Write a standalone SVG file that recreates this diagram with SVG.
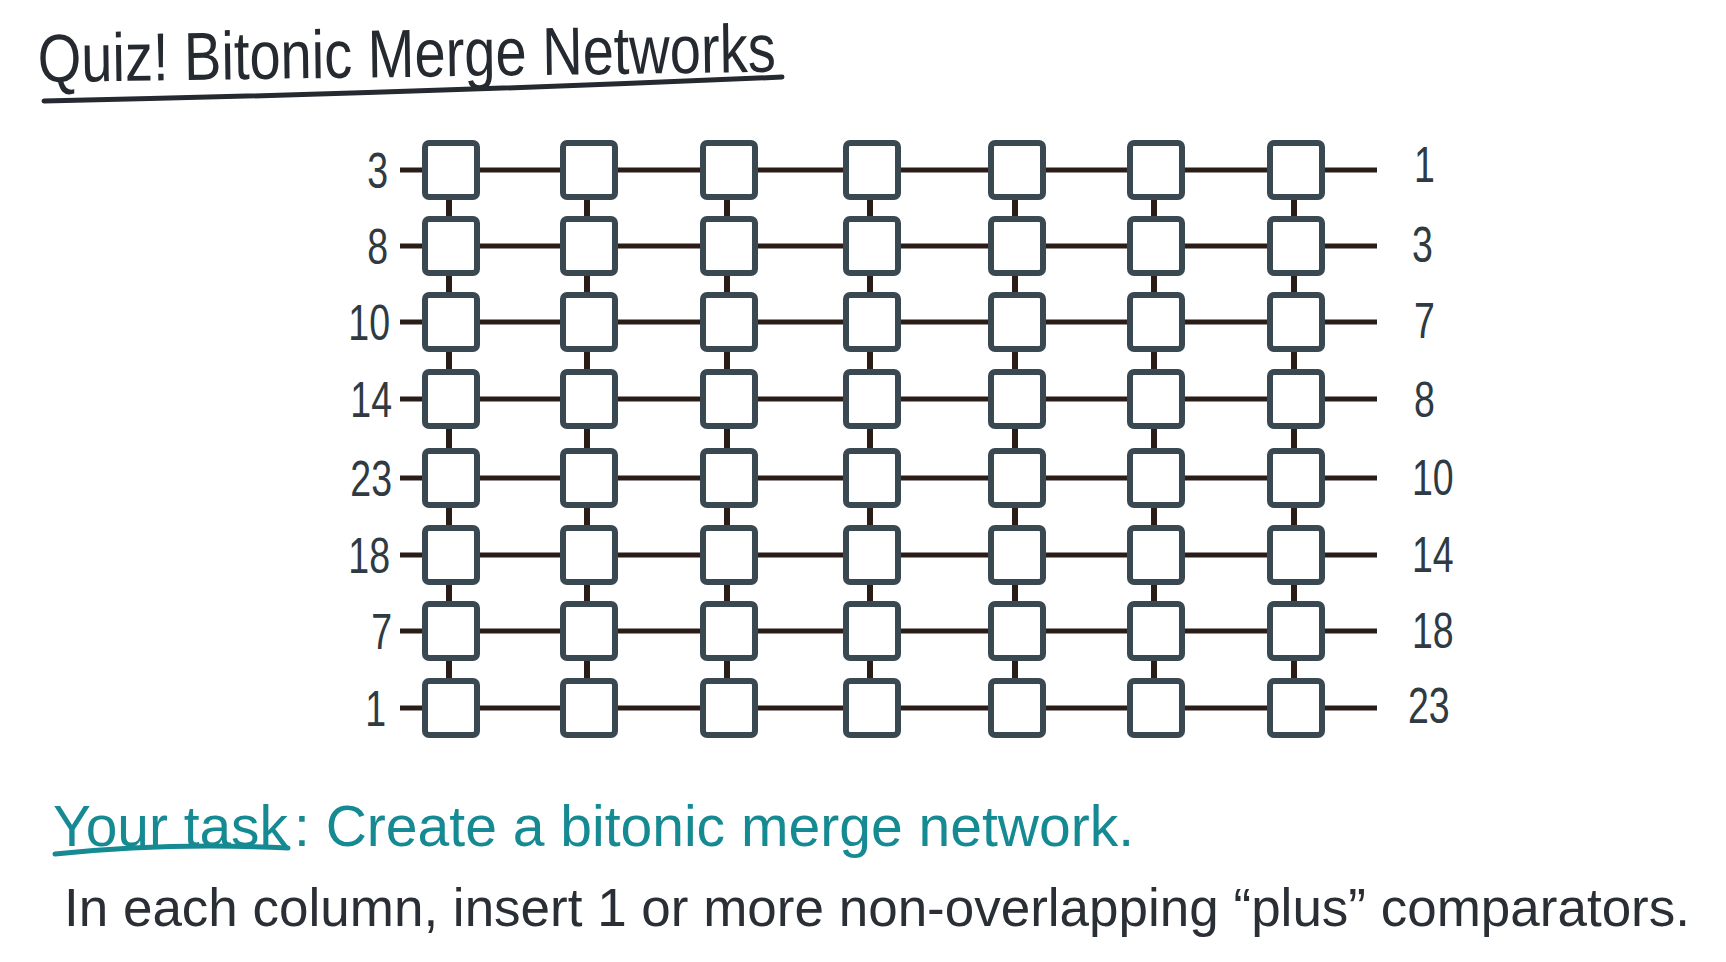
<svg xmlns="http://www.w3.org/2000/svg" xmlns:xlink="http://www.w3.org/1999/xlink" width="1726" height="962" viewBox="0 0 1726 962">
<style>
.wire{stroke:#2a1d18;stroke-width:5;fill:none;stroke-linecap:butt}
.link{stroke:#2a1d18;stroke-width:6;fill:none}
.box{fill:#ffffff;stroke:#3a4852;stroke-width:6}
.num{font-family:"Liberation Sans","DejaVu Sans",sans-serif;font-size:50px;fill:#2f3a42}
.title{font-family:"Liberation Sans","DejaVu Sans",sans-serif;font-size:68px;fill:#252a30}
.task{font-family:"Liberation Sans","DejaVu Sans",sans-serif;font-size:58px;fill:#168a92}
.body{font-family:"Liberation Sans","DejaVu Sans",sans-serif;font-size:54px;fill:#2a2f36}
</style>
<defs>
<rect id="box" class="box" x="-26" y="-27" width="52" height="54" rx="4"/>
</defs>
<rect width="1726" height="962" fill="#ffffff"/>
<g id="title">
<text class="title" x="38" y="82" textLength="738" lengthAdjust="spacingAndGlyphs" transform="rotate(-0.8 38 82)">Quiz! Bitonic Merge Networks</text>
<path d="M44 101 Q420 93 782 77" stroke="#252a30" stroke-width="5" fill="none" stroke-linecap="round"/>
</g>
<g id="connectors">
<line class="wire" x1="400" y1="170" x2="1377" y2="170"/>
<line class="wire" x1="400" y1="246" x2="1377" y2="246"/>
<line class="wire" x1="400" y1="322" x2="1377" y2="322"/>
<line class="wire" x1="400" y1="399" x2="1377" y2="399"/>
<line class="wire" x1="400" y1="478" x2="1377" y2="478"/>
<line class="wire" x1="400" y1="555" x2="1377" y2="555"/>
<line class="wire" x1="400" y1="631" x2="1377" y2="631"/>
<line class="wire" x1="400" y1="708" x2="1377" y2="708"/>
<line class="link" x1="449" y1="170" x2="449" y2="708"/>
<line class="link" x1="587" y1="170" x2="587" y2="708"/>
<line class="link" x1="727" y1="170" x2="727" y2="708"/>
<line class="link" x1="870" y1="170" x2="870" y2="708"/>
<line class="link" x1="1015" y1="170" x2="1015" y2="708"/>
<line class="link" x1="1154" y1="170" x2="1154" y2="708"/>
<line class="link" x1="1294" y1="170" x2="1294" y2="708"/>
</g>
<g id="c1">
<g id="r1c1" transform="translate(451,170)"><use href="#box"/></g>
<g id="r2c1" transform="translate(451,246)"><use href="#box"/></g>
<g id="r3c1" transform="translate(451,322)"><use href="#box"/></g>
<g id="r4c1" transform="translate(451,399)"><use href="#box"/></g>
<g id="r5c1" transform="translate(451,478)"><use href="#box"/></g>
<g id="r6c1" transform="translate(451,555)"><use href="#box"/></g>
<g id="r7c1" transform="translate(451,631)"><use href="#box"/></g>
<g id="r8c1" transform="translate(451,708)"><use href="#box"/></g>
</g>
<g id="c2">
<g id="r1c2" transform="translate(589,170)"><use href="#box"/></g>
<g id="r2c2" transform="translate(589,246)"><use href="#box"/></g>
<g id="r3c2" transform="translate(589,322)"><use href="#box"/></g>
<g id="r4c2" transform="translate(589,399)"><use href="#box"/></g>
<g id="r5c2" transform="translate(589,478)"><use href="#box"/></g>
<g id="r6c2" transform="translate(589,555)"><use href="#box"/></g>
<g id="r7c2" transform="translate(589,631)"><use href="#box"/></g>
<g id="r8c2" transform="translate(589,708)"><use href="#box"/></g>
</g>
<g id="c3">
<g id="r1c3" transform="translate(729,170)"><use href="#box"/></g>
<g id="r2c3" transform="translate(729,246)"><use href="#box"/></g>
<g id="r3c3" transform="translate(729,322)"><use href="#box"/></g>
<g id="r4c3" transform="translate(729,399)"><use href="#box"/></g>
<g id="r5c3" transform="translate(729,478)"><use href="#box"/></g>
<g id="r6c3" transform="translate(729,555)"><use href="#box"/></g>
<g id="r7c3" transform="translate(729,631)"><use href="#box"/></g>
<g id="r8c3" transform="translate(729,708)"><use href="#box"/></g>
</g>
<g id="c4">
<g id="r1c4" transform="translate(872,170)"><use href="#box"/></g>
<g id="r2c4" transform="translate(872,246)"><use href="#box"/></g>
<g id="r3c4" transform="translate(872,322)"><use href="#box"/></g>
<g id="r4c4" transform="translate(872,399)"><use href="#box"/></g>
<g id="r5c4" transform="translate(872,478)"><use href="#box"/></g>
<g id="r6c4" transform="translate(872,555)"><use href="#box"/></g>
<g id="r7c4" transform="translate(872,631)"><use href="#box"/></g>
<g id="r8c4" transform="translate(872,708)"><use href="#box"/></g>
</g>
<g id="c5">
<g id="r1c5" transform="translate(1017,170)"><use href="#box"/></g>
<g id="r2c5" transform="translate(1017,246)"><use href="#box"/></g>
<g id="r3c5" transform="translate(1017,322)"><use href="#box"/></g>
<g id="r4c5" transform="translate(1017,399)"><use href="#box"/></g>
<g id="r5c5" transform="translate(1017,478)"><use href="#box"/></g>
<g id="r6c5" transform="translate(1017,555)"><use href="#box"/></g>
<g id="r7c5" transform="translate(1017,631)"><use href="#box"/></g>
<g id="r8c5" transform="translate(1017,708)"><use href="#box"/></g>
</g>
<g id="c6">
<g id="r1c6" transform="translate(1156,170)"><use href="#box"/></g>
<g id="r2c6" transform="translate(1156,246)"><use href="#box"/></g>
<g id="r3c6" transform="translate(1156,322)"><use href="#box"/></g>
<g id="r4c6" transform="translate(1156,399)"><use href="#box"/></g>
<g id="r5c6" transform="translate(1156,478)"><use href="#box"/></g>
<g id="r6c6" transform="translate(1156,555)"><use href="#box"/></g>
<g id="r7c6" transform="translate(1156,631)"><use href="#box"/></g>
<g id="r8c6" transform="translate(1156,708)"><use href="#box"/></g>
</g>
<g id="c7">
<g id="r1c7" transform="translate(1296,170)"><use href="#box"/></g>
<g id="r2c7" transform="translate(1296,246)"><use href="#box"/></g>
<g id="r3c7" transform="translate(1296,322)"><use href="#box"/></g>
<g id="r4c7" transform="translate(1296,399)"><use href="#box"/></g>
<g id="r5c7" transform="translate(1296,478)"><use href="#box"/></g>
<g id="r6c7" transform="translate(1296,555)"><use href="#box"/></g>
<g id="r7c7" transform="translate(1296,631)"><use href="#box"/></g>
<g id="r8c7" transform="translate(1296,708)"><use href="#box"/></g>
</g>
<g id="inputs" text-anchor="end">
<text class="num" transform="translate(388,188) scale(0.75,1)">3</text>
<text class="num" transform="translate(388,264) scale(0.75,1)">8</text>
<text class="num" transform="translate(390,340) scale(0.75,1)">10</text>
<text class="num" transform="translate(392,417) scale(0.75,1)">14</text>
<text class="num" transform="translate(392,496) scale(0.75,1)">23</text>
<text class="num" transform="translate(390,573) scale(0.75,1)">18</text>
<text class="num" transform="translate(392,649) scale(0.75,1)">7</text>
<text class="num" transform="translate(386,726) scale(0.75,1)">1</text>
</g>
<g id="outputs">
<text class="num" transform="translate(1414,182) scale(0.75,1)">1</text>
<text class="num" transform="translate(1412,262) scale(0.75,1)">3</text>
<text class="num" transform="translate(1414,338) scale(0.75,1)">7</text>
<text class="num" transform="translate(1414,417) scale(0.75,1)">8</text>
<text class="num" transform="translate(1412,495) scale(0.75,1)">10</text>
<text class="num" transform="translate(1412,572) scale(0.75,1)">14</text>
<text class="num" transform="translate(1412,648) scale(0.75,1)">18</text>
<text class="num" transform="translate(1408,723) scale(0.75,1)">23</text>
</g>
<g id="task">
<text class="task" x="53" y="846" textLength="235" lengthAdjust="spacingAndGlyphs">Your task</text>
<path d="M55 854 Q170 842 288 848" stroke="#168a92" stroke-width="5" fill="none" stroke-linecap="round"/>
<text class="task" x="294" y="846" textLength="840" lengthAdjust="spacingAndGlyphs">: Create a bitonic merge network.</text>
</g>
<g id="instructions">
<text class="body" x="64" y="926" textLength="1626" lengthAdjust="spacingAndGlyphs">In each column, insert 1 or more non-overlapping “plus” comparators.</text>
</g>
</svg>
